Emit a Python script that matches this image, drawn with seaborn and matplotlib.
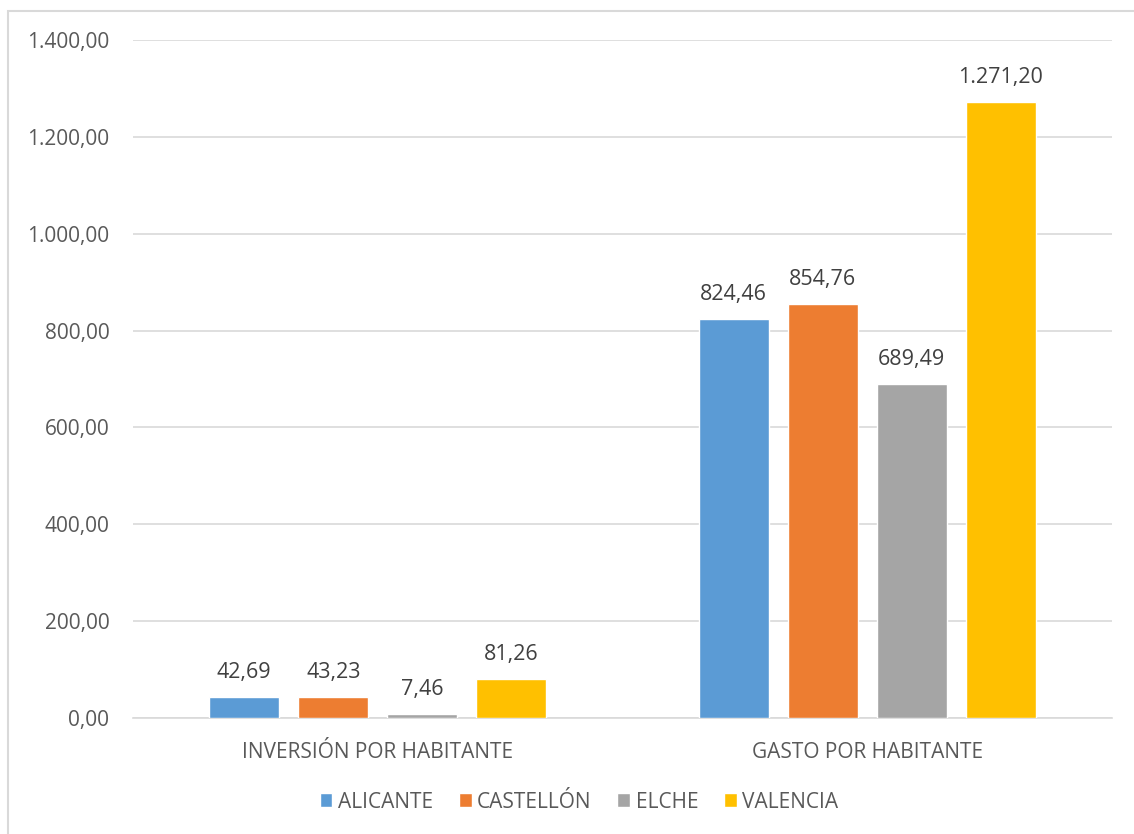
import matplotlib
matplotlib.use("Agg")
import matplotlib.pyplot as plt
from matplotlib.patches import Rectangle
import seaborn as sns
import pandas as pd

# Indicators and cities
indicators = ["INVERSIÓN POR HABITANTE", "GASTO POR HABITANTE"]
cities = ["ALICANTE", "CASTELLÓN", "ELCHE", "VALENCIA"]
inversion = [42.69, 43.23, 7.46, 81.26]
gasto = [824.46, 854.76, 689.49, 1271.20]
colors = ["#5B9BD5", "#ED7D31", "#A5A5A5", "#FFC000"]
yticks = [0, 200, 400, 600, 800, 1000, 1200, 1400]

rows = []
for city, inv, gas in zip(cities, inversion, gasto):
    rows.append({"indicador": indicators[0], "ciudad": city, "valor": inv})
    rows.append({"indicador": indicators[1], "ciudad": city, "valor": gas})
df = pd.DataFrame(rows)


def es_format(v):
    s = f"{v:,.2f}"
    return s.replace(",", "X").replace(".", ",").replace("X", ".")


sns.set_theme(style="white")
plt.rcParams["font.family"] = ["Open Sans", "DejaVu Sans"]

FS = 15

fig = plt.figure(figsize=(11.34, 8.34), dpi=100)
ax = fig.add_axes([133 / 1134, 116 / 834, (1112 - 133) / 1134, (718 - 40) / 834])

sns.barplot(data=df, x="indicador", y="valor", hue="ciudad", order=indicators,
            hue_order=cities, palette=colors, width=0.727, gap=0.21,
            saturation=1, errorbar=None, ax=ax, legend=True, zorder=3)

ax.set_ylim(0, 1400)
ax.set_yticks(yticks)
ax.set_yticklabels([es_format(t) for t in yticks])
ax.yaxis.grid(True, color="#D9D9D9", linewidth=1.2, zorder=0)
ax.set_axisbelow(True)
ax.set_xlabel("")
ax.set_ylabel("")
for side in ["top", "right", "left"]:
    ax.spines[side].set_visible(False)
ax.spines["bottom"].set_color("#D9D9D9")
ax.spines["bottom"].set_linewidth(1.2)
ax.tick_params(axis="both", length=0, labelsize=FS, colors="#595959")
ax.tick_params(axis="y", pad=17)
ax.tick_params(axis="x", pad=17)

for container in ax.containers:
    ax.bar_label(container, labels=[es_format(v) for v in container.datavalues],
                 padding=10, fontsize=FS + 0.5, color="#404040")

handles, labels = ax.get_legend_handles_labels()
ax.get_legend().remove()
fig.legend(handles, labels, loc="center", bbox_to_anchor=(579 / 1134, 1 - 802 / 834),
           ncol=4, frameon=False, fontsize=FS, handlelength=0.62, handleheight=0.62,
           handletextpad=0.25, columnspacing=1.25, labelcolor="#595959")

# Chart area border (left and top edges visible)
fig.patches.append(Rectangle((7.5 / 1134, -0.1), 1.2, 1 - 10.5 / 834 + 0.1,
                             transform=fig.transFigure, fill=False,
                             edgecolor="#D9D9D9", linewidth=1.5))

fig.savefig("out.png", dpi=100, facecolor="white")
